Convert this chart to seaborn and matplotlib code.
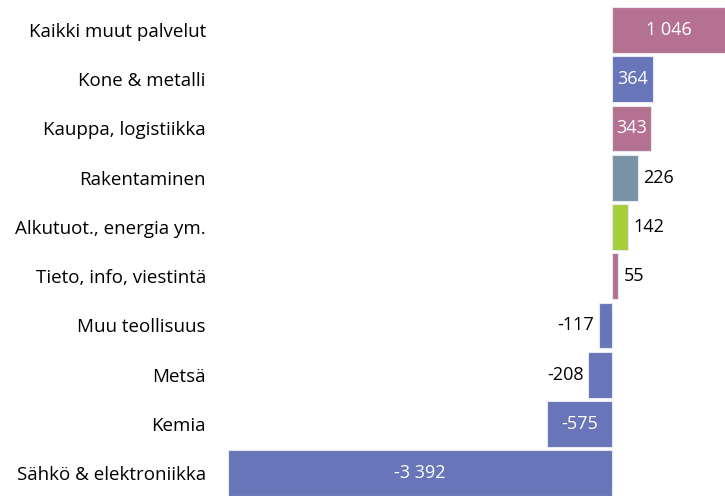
import matplotlib

matplotlib.use("Agg")
import matplotlib.pyplot as plt
import pandas as pd
import seaborn as sns

categories = [
    "Kaikki muut palvelut",
    "Kone & metalli",
    "Kauppa, logistiikka",
    "Rakentaminen",
    "Alkutuot., energia ym.",
    "Tieto, info, viestintä",
    "Muu teollisuus",
    "Metsä",
    "Kemia",
    "Sähkö & elektroniikka",
]
values = [1046, 364, 343, 226, 142, 55, -117, -208, -575, -3392]
value_labels = ["1 046", "364", "343", "226", "142", "55", "-117", "-208", "-575", "-3 392"]
bar_colors = ["#B57190", "#6875B8", "#B57190", "#7A92A5", "#A6CE39",
              "#B57190", "#6875B8", "#6875B8", "#6875B8", "#6875B8"]

df = pd.DataFrame({"category": categories, "value": values})

sns.set_theme(style="white")
plt.rcParams["font.family"] = ["Open Sans", "DejaVu Sans"]

fig = plt.figure(figsize=(7.25, 4.96), dpi=100)
ax = fig.add_axes([228 / 725, 0, 1 - 228 / 725, 1])

sns.barplot(
    data=df, x="value", y="category", hue="category",
    palette=dict(zip(categories, bar_colors)), legend=False,
    orient="h", width=0.93, edgecolor="#E6E8F4", linewidth=0.8,
    saturation=1, ax=ax,
)

ax.set_xlim(-3392, 998)
ax.set_ylim(9.465, -0.61)
ax.set_xlabel("")
ax.set_ylabel("")
ax.set_xticks([])
ax.tick_params(axis="y", length=0, pad=16, labelsize=13.5, labelcolor="black")
for spine in ax.spines.values():
    spine.set_visible(False)

for i, (val, lab) in enumerate(zip(values, value_labels)):
    if abs(val) >= 300:
        x = val / 2 if val < 0 else min(val, 998) / 2
        ax.text(x, i, lab, color="white", ha="center", va="center", fontsize=13)
    elif val >= 0:
        ax.text(val + 45, i, lab, color="black", ha="left", va="center", fontsize=13)
    else:
        ax.text(val - 45, i, lab, color="black", ha="right", va="center", fontsize=13)

fig.savefig("out.png", dpi=100)
